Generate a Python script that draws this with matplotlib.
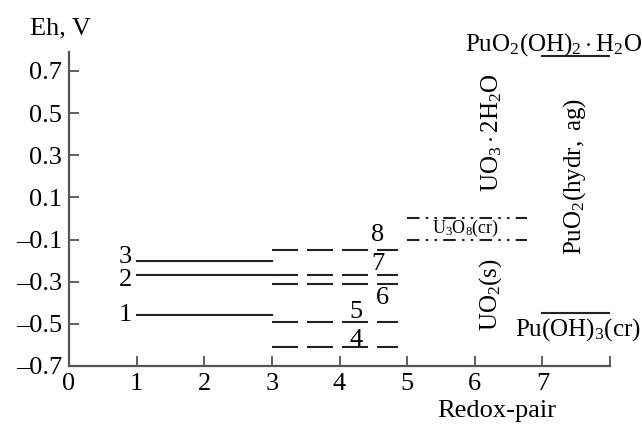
import numpy as np
import matplotlib.pyplot as plt

plt.rcParams['font.family'] = ['Liberation Serif', 'DejaVu Serif']
plt.rcParams['mathtext.fontset'] = 'custom'
plt.rcParams['mathtext.rm'] = 'Liberation Serif'
plt.rcParams['mathtext.it'] = 'Liberation Serif:italic'
plt.rcParams['mathtext.bf'] = 'Liberation Serif:bold'

# Eh levels of the redox pairs
solid_labels = ['1', '2', '3']
solid_eh = [-0.46, -0.27, -0.20]

dashed_labels = ['4', '5', '6', '7', '8']
dashed_eh = [-0.61, -0.49, -0.31, -0.27, -0.15]

u3o8_eh = [0.0, -0.10]

pu_labels = [r'$\mathrm{Pu(OH)_3(cr)}$', r'$\mathrm{PuO_2(OH)_2\cdot H_2O}$']
pu_eh = [-0.45, 0.77]

yticks = [0.7, 0.5, 0.3, 0.1, -0.1, -0.3, -0.5, -0.7]
xticks = [0, 1, 2, 3, 4, 5, 6, 7, 8]
xticklabels = ['0', '1', '2', '3', '4', '5', '6', '7', '']

fig = plt.figure(figsize=(6.42, 4.24), dpi=100)
ax = fig.add_axes([69/642, 1-366/424, (610-69)/642, (366-52)/424])

lc = '#222222'
lw = 1.5
for e in solid_eh:
    ax.plot([1, 3], [e, e], color=lc, lw=lw)
for e in dashed_eh:
    ax.plot([3, 4.87], [e, e], color=lc, lw=lw, linestyle=(0.0, (12.5, 4.3)))
for e in u3o8_eh:
    ax.plot([5, 6.78], [e, e], color=lc, lw=lw, linestyle=(0.0, (6, 3, 1.2, 3, 1.2, 3)))
for e in pu_eh:
    ax.plot([7, 8], [e, e], color=lc, lw=lw)

fs = 19
mfs = 18
# numbers of the redox pairs
for lab, e, dy in zip(solid_labels, solid_eh, [0, -0.02, 0.015]):
    ax.text(0.93, e + dy, lab, fontsize=fs, ha='right', va='center')
ax.text(4.25, -0.577, '4', fontsize=fs, ha='center', va='center')
ax.text(4.25, -0.445, '5', fontsize=fs, ha='center', va='center')
ax.text(4.63, -0.375, '6', fontsize=fs, ha='center', va='center')
ax.text(4.57, -0.217, '7', fontsize=fs, ha='center', va='center')
ax.text(4.57, -0.08, '8', fontsize=fs, ha='center', va='center')

ax.text(5.87, -0.045, r'$\mathrm{U_3O_8(cr)}$', fontsize=13, ha='center', va='center')
ax.text(6.25, 0.406, r'$\mathrm{UO_3\cdot 2H_2O}$', fontsize=mfs, ha='center', va='center', rotation=90)
ax.text(6.24, -0.363, r'$\mathrm{UO_2(s)}$', fontsize=mfs, ha='center', va='center', rotation=90)
ax.text(7.47, 0.2, r'$\mathrm{PuO_2(hydr,\ ag)}$', fontsize=mfs, ha='center', va='center', rotation=90)
ax.text(7.53, -0.525, pu_labels[0], fontsize=mfs, ha='center', va='center', clip_on=False)
ax.text(7.16, 0.826, pu_labels[1], fontsize=mfs, ha='center', va='center', clip_on=False)

ax.set_xlim(0, 8)
ax.set_ylim(-0.7, 0.79)
ax.set_xticks(xticks)
ax.set_xticklabels(xticklabels)
ax.set_yticks(yticks)
ax.set_yticklabels([f'{v:.1f}'.replace('-', '\u2013') for v in yticks])
ax.tick_params(direction='in', length=7, width=1.2, color='#444444', labelsize=fs, pad=5)
for s in ['top', 'right']:
    ax.spines[s].set_visible(False)
for s in ['left', 'bottom']:
    ax.spines[s].set_linewidth(1.6)
    ax.spines[s].set_color('#555555')

fig.text(30/642, 1-28/424, 'Eh, V', fontsize=fs, ha='left', va='center')
fig.text(497/642, 1-411/424, 'Redox-pair', fontsize=fs, ha='center', va='center')

fig.savefig('out.png', dpi=100)
